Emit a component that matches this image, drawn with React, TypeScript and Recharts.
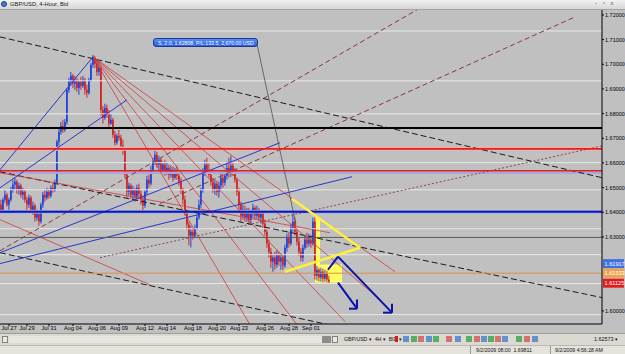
import React from "react";
import { ComposedChart, Bar, XAxis, YAxis, ReferenceLine, ReferenceArea } from "recharts";

// ---- candles (4-hour GBP/USD) ----
const opens = [1.6431,1.6410,1.6451,1.6471,1.6431,1.6451,1.6491,1.6512,1.6524,1.6491,
 1.6508,1.6471,1.6483,1.6451,1.6431,1.6459,1.6410,1.6427,1.6378,1.6394,
 1.6362,1.6431,1.6471,1.6459,1.6483,1.6467,1.6499,1.6491,1.6520,1.6686,
 1.6726,1.6750,1.6734,1.6766,1.6896,1.6929,1.6953,1.6921,1.6937,1.6904,
 1.6929,1.6912,1.6937,1.6896,1.6884,1.6937,1.6998,1.7026,1.7002,1.6969,
 1.6985,1.6815,1.6783,1.6823,1.6799,1.6759,1.6775,1.6714,1.6682,1.6710,
 1.6702,1.6670,1.6653,1.6552,1.6483,1.6508,1.6471,1.6491,1.6463,1.6499,
 1.6475,1.6451,1.6427,1.6483,1.6532,1.6516,1.6572,1.6605,1.6633,1.6593,
 1.6613,1.6572,1.6593,1.6564,1.6580,1.6552,1.6572,1.6540,1.6564,1.6548,
 1.6524,1.6491,1.6451,1.6402,1.6350,1.6305,1.6321,1.6305,1.6333,1.6378,
 1.6431,1.6491,1.6564,1.6593,1.6572,1.6552,1.6524,1.6491,1.6516,1.6483,
 1.6508,1.6540,1.6520,1.6548,1.6580,1.6556,1.6589,1.6564,1.6532,1.6483,
 1.6431,1.6386,1.6410,1.6378,1.6402,1.6370,1.6394,1.6418,1.6386,1.6410,
 1.6378,1.6394,1.6354,1.6321,1.6273,1.6240,1.6200,1.6216,1.6188,1.6228,
 1.6200,1.6216,1.6184,1.6256,1.6297,1.6273,1.6337,1.6362,1.6321,1.6281,
 1.6240,1.6216,1.6256,1.6289,1.6273,1.6289,1.6273,1.6362,1.6143,1.6167,
 1.6135,1.6159,1.6131,1.6151,1.6127];
const highs = [1.6451,1.6459,1.6491,1.6479,1.6459,1.6503,1.6532,1.6540,1.6532,1.6520,
 1.6516,1.6499,1.6491,1.6463,1.6471,1.6467,1.6443,1.6435,1.6410,1.6402,
 1.6439,1.6483,1.6491,1.6499,1.6495,1.6508,1.6516,1.6532,1.6694,1.6742,
 1.6766,1.6775,1.6778,1.6904,1.6945,1.6969,1.6961,1.6953,1.6945,1.6937,
 1.6949,1.6953,1.6945,1.6917,1.6945,1.7006,1.7038,1.7034,1.7018,1.7010,
 1.6994,1.6831,1.6840,1.6836,1.6815,1.6799,1.6783,1.6730,1.6718,1.6734,
 1.6714,1.6694,1.6662,1.6564,1.6520,1.6516,1.6508,1.6499,1.6512,1.6516,
 1.6491,1.6467,1.6491,1.6548,1.6552,1.6589,1.6621,1.6661,1.6645,1.6629,
 1.6621,1.6605,1.6613,1.6601,1.6593,1.6589,1.6585,1.6580,1.6589,1.6564,
 1.6540,1.6499,1.6467,1.6410,1.6362,1.6346,1.6337,1.6350,1.6390,1.6451,
 1.6499,1.6580,1.6613,1.6621,1.6597,1.6572,1.6540,1.6532,1.6528,1.6524,
 1.6556,1.6564,1.6572,1.6605,1.6621,1.6629,1.6601,1.6580,1.6540,1.6499,
 1.6443,1.6431,1.6427,1.6418,1.6418,1.6410,1.6435,1.6427,1.6427,1.6418,
 1.6402,1.6402,1.6370,1.6337,1.6289,1.6256,1.6232,1.6240,1.6248,1.6240,
 1.6232,1.6228,1.6269,1.6313,1.6321,1.6354,1.6394,1.6378,1.6337,1.6297,
 1.6256,1.6269,1.6309,1.6317,1.6313,1.6309,1.6378,1.6378,1.6183,1.6175,
 1.6175,1.6171,1.6167,1.6163,1.6143];
const lows = [1.6402,1.6402,1.6439,1.6423,1.6410,1.6443,1.6479,1.6491,1.6475,1.6471,
 1.6459,1.6451,1.6439,1.6410,1.6418,1.6398,1.6390,1.6362,1.6366,1.6346,
 1.6354,1.6418,1.6443,1.6451,1.6455,1.6459,1.6479,1.6483,1.6512,1.6670,
 1.6714,1.6722,1.6726,1.6755,1.6884,1.6912,1.6904,1.6896,1.6888,1.6876,
 1.6896,1.6904,1.6876,1.6864,1.6876,1.6929,1.6985,1.6985,1.6953,1.6953,
 1.6791,1.6759,1.6775,1.6783,1.6742,1.6755,1.6702,1.6670,1.6674,1.6690,
 1.6662,1.6633,1.6540,1.6459,1.6467,1.6455,1.6451,1.6443,1.6451,1.6459,
 1.6431,1.6406,1.6418,1.6471,1.6499,1.6508,1.6556,1.6593,1.6581,1.6572,
 1.6564,1.6556,1.6548,1.6552,1.6532,1.6540,1.6524,1.6532,1.6532,1.6508,
 1.6475,1.6431,1.6386,1.6329,1.6265,1.6257,1.6289,1.6297,1.6329,1.6370,
 1.6418,1.6479,1.6548,1.6556,1.6540,1.6508,1.6479,1.6471,1.6467,1.6459,
 1.6491,1.6499,1.6508,1.6532,1.6540,1.6544,1.6548,1.6520,1.6467,1.6410,
 1.6362,1.6370,1.6362,1.6362,1.6354,1.6354,1.6378,1.6370,1.6374,1.6362,
 1.6354,1.6337,1.6305,1.6256,1.6216,1.6175,1.6159,1.6167,1.6175,1.6183,
 1.6167,1.6167,1.6175,1.6240,1.6256,1.6265,1.6321,1.6305,1.6265,1.6224,
 1.6200,1.6200,1.6248,1.6256,1.6261,1.6256,1.6265,1.6127,1.6123,1.6119,
 1.6119,1.6115,1.6119,1.6115,1.6111];
const closes = [1.6410,1.6451,1.6471,1.6431,1.6451,1.6491,1.6512,1.6524,1.6491,1.6508,
 1.6471,1.6483,1.6451,1.6431,1.6459,1.6410,1.6427,1.6378,1.6394,1.6362,
 1.6431,1.6471,1.6459,1.6483,1.6467,1.6499,1.6491,1.6520,1.6686,1.6726,
 1.6750,1.6734,1.6766,1.6896,1.6929,1.6953,1.6921,1.6937,1.6904,1.6929,
 1.6912,1.6937,1.6896,1.6884,1.6937,1.6998,1.7026,1.7002,1.6969,1.6985,
 1.6815,1.6783,1.6823,1.6799,1.6759,1.6775,1.6714,1.6682,1.6710,1.6702,
 1.6670,1.6653,1.6552,1.6483,1.6508,1.6471,1.6491,1.6463,1.6499,1.6475,
 1.6451,1.6427,1.6483,1.6532,1.6516,1.6572,1.6605,1.6633,1.6593,1.6613,
 1.6572,1.6593,1.6564,1.6580,1.6552,1.6572,1.6540,1.6564,1.6548,1.6524,
 1.6491,1.6451,1.6402,1.6350,1.6305,1.6321,1.6305,1.6333,1.6378,1.6431,
 1.6491,1.6564,1.6593,1.6572,1.6552,1.6524,1.6491,1.6516,1.6483,1.6508,
 1.6540,1.6520,1.6548,1.6580,1.6556,1.6589,1.6564,1.6532,1.6483,1.6431,
 1.6386,1.6410,1.6378,1.6402,1.6370,1.6394,1.6418,1.6386,1.6410,1.6378,
 1.6394,1.6354,1.6321,1.6273,1.6240,1.6200,1.6216,1.6188,1.6228,1.6200,
 1.6216,1.6184,1.6256,1.6297,1.6273,1.6337,1.6362,1.6321,1.6281,1.6240,
 1.6216,1.6256,1.6289,1.6273,1.6289,1.6273,1.6362,1.6143,1.6167,1.6135,
 1.6159,1.6131,1.6151,1.6127,1.6119];

const SLOTS = 301; // bar slots incl. empty future space

// ---- axes ----
const dateTickIdx = [4, 13, 24, 36, 48, 59, 72, 83, 96, 108, 119, 132, 144, 155];
const dateLabels = ["Jul 27", "Jul 29", "Jul 31", "Aug 04", "Aug 06", "Aug 09", "Aug 12", "Aug 14", "Aug 18", "Aug 20", "Aug 23", "Aug 26", "Aug 28", "Sep 01"];
const priceTicks = [1.60, 1.63, 1.64, 1.65, 1.66, 1.67, 1.68, 1.69, 1.70, 1.71, 1.72];
const priceDomain = [1.5947, 1.7220];

// ---- horizontal levels ----
const whiteLevels = [1.7135, 1.6933, 1.6799, 1.6601, 1.6491, 1.6333, 1.6228, 1.6111, 1.5985];
const blackLevel = 1.6742;
const redLevels = [1.6657, 1.6568];
const purpleLevel = 1.6560;
const blueLevel = 1.6402;
const grayLevel = 1.6298;
const orangeLevel = 1.6153;
const tagPrices = [1.61917, 1.61533, 1.61125];

// ---- trend lines [barIdx1, price1, barIdx2, price2] ----
const blackDashed = [
  [-0.5, 1.7111, 300.5, 1.6540],
  [-0.5, 1.6564, 300.5, 1.6054],
  [-0.5, 1.6236, 300.5, 1.5701],
];
const brownDashed = [
  [-0.5, 1.6244, 209.5, 1.7228],
  [79.5, 1.6435, 287, 1.7192],
];
const brownDotted = [
  [49.5, 1.6216, 300.5, 1.6669],
];
const blueTrend = [
  [-0.5, 1.6572, 46, 1.7030],
  [-0.5, 1.6499, 63, 1.6856],
  [-0.5, 1.6236, 139.5, 1.6682],
  [-0.5, 1.6192, 175.5, 1.6544],
];
const redTrend = [
  [46, 1.7030, 197, 1.6159],
  [46, 1.7030, 189.5, 1.6046],
  [46, 1.7030, 172, 1.5957],
  [46, 1.7030, 148, 1.5944],
  [46, 1.7030, 124.5, 1.5944],
  [-0.5, 1.6370, 74.5, 1.6106],
  [-0.5, 1.6560, 164.5, 1.6317],
];
const grayTrend = [[128, 1.7082, 147.5, 1.6350]];
const yellowTrend = [
  [145.5, 1.6455, 179.5, 1.6256],
  [142, 1.6159, 179.5, 1.6256],
];
const yellowBars = [
  [157, 1.6378, 159.5, 1.6115],
  [158.5, 1.6188, 170.5, 1.6115],
];
const arrowTrend = [
  [163.5, 1.6167, 168.5, 1.6220],
  [168.5, 1.6220, 195.5, 1.5993],
  [191, 1.5993, 195.5, 1.5993],
  [195.5, 1.6029, 195.5, 1.5993],
  [168.5, 1.6115, 178, 1.6009],
  [174, 1.6009, 178, 1.6009],
  [178, 1.6046, 178, 1.6009],
];

const rows = Array.from({ length: SLOTS }, (_, i) =>
  i < opens.length
    ? { i, o: opens[i], h: highs[i], l: lows[i], c: closes[i], range: [lows[i], highs[i]] }
    : { i, o: null, h: null, l: null, c: null, range: null }
);

const BULL = "#2447d8";
const BEAR = "#d02828";

const Candle = (props: any) => {
  const { x, y, width, height, payload } = props;
  if (!payload || payload.h == null || x == null) return <g />;
  const { o, h, l, c } = payload;
  const top = Math.min(y, y + height);
  const bot = Math.max(y, y + height);
  const span = h - l || 1e-9;
  const py = (v: number) => top + ((h - v) / span) * (bot - top);
  const cx = x + width / 2;
  const color = c >= o ? BULL : BEAR;
  const bt = py(Math.max(o, c));
  const bb = py(Math.min(o, c));
  return (
    <g>
      <line x1={cx} x2={cx} y1={top} y2={bot} stroke={color} strokeWidth={1} />
      <rect x={cx - 0.9} y={bt} width={1.8} height={Math.max(1, bb - bt)} fill={color} />
    </g>
  );
};

const seg = (s: number[], key: string, stroke: string, w: number, dash?: string) => (
  <ReferenceLine
    key={key}
    xAxisId="num"
    segment={[{ x: s[0], y: s[1] }, { x: s[2], y: s[3] }]}
    stroke={stroke}
    strokeWidth={w}
    strokeDasharray={dash}
    ifOverflow="hidden"
  />
);

const tagColors = ["#3f6fe0", "#eea24c", "#e01c1c"];

const Tag = (price: number, bg: string) => (p: any) => {
  const vb = p.viewBox || {};
  const x = (vb.x || 0) + (vb.width || 0);
  const y = vb.y || 0;
  return (
    <g>
      <rect x={x + 1} y={y - 4.5} width={21} height={9} fill={bg} />
      <text x={x + 2.5} y={y + 2} fontSize={5.6} fill="#ffffff" fontFamily="Liberation Sans, Arial, sans-serif">
        {price.toFixed(5)}
      </text>
    </g>
  );
};

const small = { fontFamily: "Liberation Sans, Arial, sans-serif", fontSize: 5.6, color: "#111", position: "absolute" as const, whiteSpace: "nowrap" as const };

export default function App() {
  return (
    <div style={{ position: "absolute", left: 0, top: 0, width: 625, height: 354, overflow: "hidden", background: "#c0c0c0" }}>
      <div style={{ position: "absolute", left: 0, top: 0 }}>
        <ComposedChart width={625} height={333} data={rows} margin={{ top: 10, right: 0, bottom: 0, left: 0 }}>
          <XAxis
            xAxisId="cat"
            dataKey="i"
            type="category"
            ticks={dateTickIdx}
            interval={0}
            tickFormatter={(v: any) => dateLabels[dateTickIdx.indexOf(Number(v))] || ""}
            height={9}
            tickSize={2}
            tickMargin={0}
            tick={{ fontSize: 5.7, fill: "#000", fontFamily: "Liberation Sans, Arial, sans-serif" }}
            axisLine={{ stroke: "#000" }}
            tickLine={{ stroke: "#000" }}
          />
          <XAxis xAxisId="num" dataKey="i" type="number" domain={[-0.5, SLOTS - 0.5]} allowDataOverflow hide />
          <YAxis
            orientation="right"
            width={23}
            domain={priceDomain}
            allowDataOverflow
            ticks={priceTicks}
            interval={0}
            tickFormatter={(v: number) => v.toFixed(5)}
            tickSize={2}
            tickMargin={1}
            tick={{ fontSize: 5.5, fill: "#000", fontFamily: "Liberation Sans, Arial, sans-serif" }}
            axisLine={{ stroke: "#000" }}
            tickLine={{ stroke: "#000" }}
          />

          {whiteLevels.map((p, k) => (
            <ReferenceLine key={"w" + k} xAxisId="num" y={p} stroke="#e8e8e8" strokeWidth={1} />
          ))}
          <ReferenceLine xAxisId="num" y={redLevels[0]} stroke="#eeb0b0" strokeWidth={4} />
          <ReferenceLine xAxisId="num" y={purpleLevel} stroke="#aca6dc" strokeWidth={2.5} />
          <ReferenceLine xAxisId="num" y={blueLevel} stroke="#a0aaec" strokeWidth={3.5} />

          {yellowBars.map((r, k) => (
            <ReferenceArea key={"ya" + k} xAxisId="num" x1={r[0]} x2={r[2]} y1={r[3]} y2={r[1]} fill="#ffff60" fillOpacity={1} stroke="none" ifOverflow="hidden" />
          ))}

          {brownDotted.map((s, k) => seg(s, "bd" + k, "#8a4848", 1, "2 2"))}
          {brownDashed.map((s, k) => seg(s, "bs" + k, "#8a3838", 1, "5 3"))}
          {blackDashed.map((s, k) => seg(s, "kd" + k, "#1a1a1a", 1, "6 3"))}
          {redTrend.map((s, k) => seg(s, "r" + k, "#d03a3a", 0.8))}
          {blueTrend.map((s, k) => seg(s, "b" + k, "#2a36c8", 1))}
          {grayTrend.map((s, k) => seg(s, "g" + k, "#505050", 0.8))}

          <ReferenceLine xAxisId="num" y={blackLevel} stroke="#000" strokeWidth={2} />
          {redLevels.map((p, k) => (
            <ReferenceLine key={"rl" + k} xAxisId="num" y={p} stroke="#e02020" strokeWidth={1.6} />
          ))}
          <ReferenceLine xAxisId="num" y={blueLevel} stroke="#0a18b0" strokeWidth={2} />
          <ReferenceLine xAxisId="num" y={grayLevel} stroke="#5a5a5a" strokeWidth={1} />
          <ReferenceLine xAxisId="num" y={orangeLevel} stroke="#d89050" strokeWidth={1} />

          <Bar xAxisId="cat" dataKey="range" barSize={2} shape={<Candle />} isAnimationActive={false} />

          {yellowTrend.map((s, k) => seg(s, "y" + k, "#fff040", 2.5))}
          {arrowTrend.map((s, k) => seg(s, "a" + k, "#0a14a8", 2))}

          {tagPrices.map((p, k) => (
            <ReferenceLine key={"t" + k} xAxisId="num" y={p} stroke="none" ifOverflow="visible" label={{ content: Tag(p, tagColors[k]) }} />
          ))}
        </ComposedChart>
      </div>

      {/* title bar */}
      <div style={{ position: "absolute", left: 0, top: 0, width: 625, height: 9, background: "linear-gradient(#f2f2f2,#d6d6d6)", borderBottom: "1px solid #a4a4a4" }}>
        <div style={{ position: "absolute", left: 1, top: 1, width: 6, height: 6, borderRadius: 3, background: "#4a7ad0", border: "1px solid #1e3c80", boxSizing: "border-box" }} />
        <div style={{ ...small, left: 10, top: 0.5, fontSize: 5.8, color: "#222" }}>GBP/USD, 4-Hour, Bid</div>
        <div style={{ ...small, left: 595, top: -0.5, fontSize: 6, color: "#555", letterSpacing: 2 }}>- ▫ x</div>
      </div>

      {/* trade info label */}
      <div style={{ position: "absolute", left: 153, top: 38, width: 105, height: 9, borderRadius: 3, background: "linear-gradient(#5c8cf0,#2a5ee0)", border: "1px solid #1a3a9a", boxSizing: "border-box" }}>
        <div style={{ ...small, left: 4, top: 1, fontSize: 5.2, color: "#fff" }}>S, 2.0, 1.62808, P/L:133.5, 2,670.00 USD</div>
      </div>

      {/* toolbar */}
      <div style={{ position: "absolute", left: 0, top: 333, width: 625, height: 12, background: "#dcd9d1", borderTop: "1px solid #9c9c9c", boxSizing: "border-box" }}>
        <div style={{ position: "absolute", left: 2, top: 1.5, width: 6, height: 7, background: "#ece9e1", border: "1px solid #808080", boxSizing: "border-box" }} />
        <div style={{ position: "absolute", left: 9, top: 1.5, width: 313, height: 7, background: "#e8e6df" }} />
        <div style={{ position: "absolute", left: 322, top: 1.5, width: 9, height: 7, background: "#8c8c8c" }} />
        <div style={{ position: "absolute", left: 332, top: 1.5, width: 6, height: 7, background: "#ece9e1", border: "1px solid #808080", boxSizing: "border-box" }} />
        <div style={{ ...small, left: 344, top: 1.5, fontSize: 5.2 }}>GBP/USD ▾ &nbsp;4H ▾ &nbsp;BID ▾</div>
        <div style={{ position: "absolute", left: 395, top: 2, width: 3, height: 6, background: "#d02020" }} />
        {[403, 411, 418, 426, 433, 446, 455, 466, 474, 481, 488, 495, 502, 516, 524, 532].map((x, k) => (
          <div key={k} style={{ position: "absolute", left: x, top: 2, width: 6, height: 6, background: k % 3 === 0 ? "#3c78c8" : k % 3 === 1 ? "#2aa040" : "#d05050", opacity: 0.75 }} />
        ))}
        <div style={{ ...small, left: 594, top: 1.5, fontSize: 5.4 }}>1.62573 ▾</div>
      </div>
      {/* status bar */}
      <div style={{ position: "absolute", left: 0, top: 345, width: 625, height: 9, background: "#e6e3dc", borderTop: "1px solid #b8b8b8", boxSizing: "border-box" }}>
        <div style={{ position: "absolute", left: 470, top: 0, width: 1, height: 9, background: "#9a9a9a" }} />
        <div style={{ ...small, left: 476, top: 1, fontSize: 5.2 }}>9/2/2009 08:00 &nbsp;1.69811</div>
        <div style={{ position: "absolute", left: 550, top: 0, width: 1, height: 9, background: "#9a9a9a" }} />
        <div style={{ ...small, left: 555, top: 1, fontSize: 5.2 }}>9/2/2009 4:56:28 AM</div>
      </div>
    </div>
  );
}
